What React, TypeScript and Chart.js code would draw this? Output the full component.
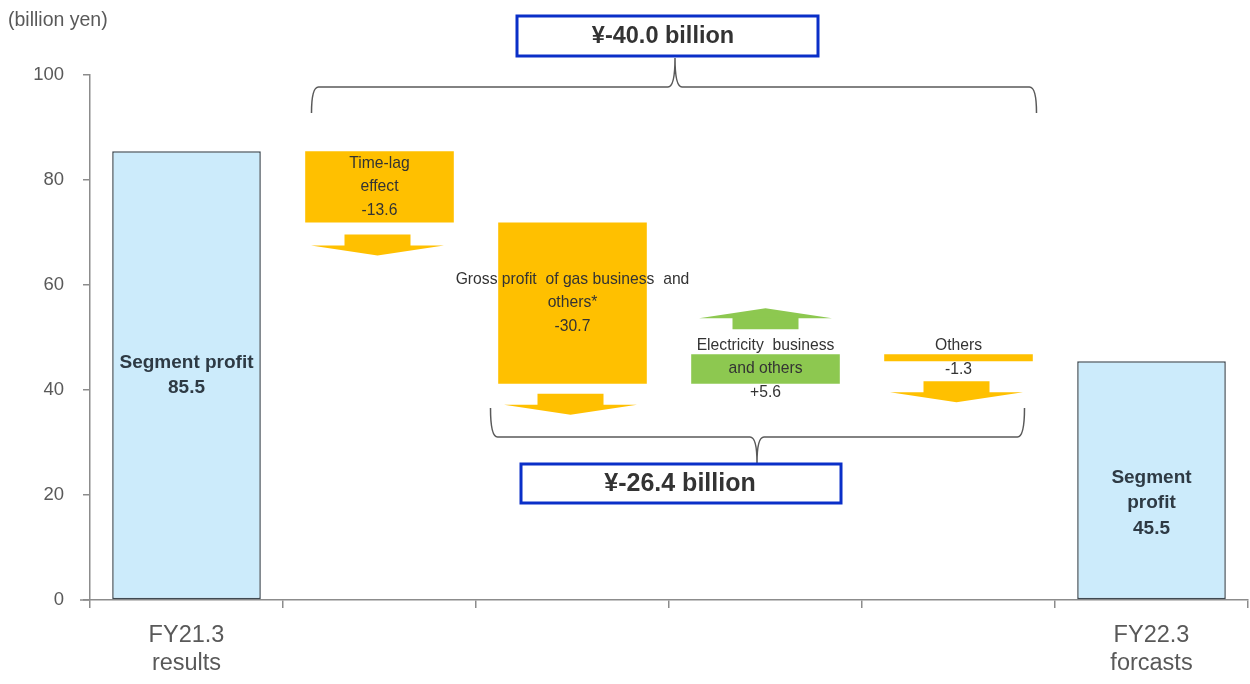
import React, { useEffect, useRef } from "react";
import { Chart, registerables } from "chart.js";

Chart.register(...registerables);

const categories: (string | string[])[] = [["FY21.3", "results"], "", "", "", "", ["FY22.3", "forcasts"]];
const startValue = 85.5;
const changes = [-13.6, -30.7, 5.6, -1.3];
const endValue = 45.5;
const barLabels: string[][] = [
  ["Segment profit", "85.5"],
  ["Time-lag", "effect", "-13.6"],
  ["Gross profit  of gas business  and", "others*", "-30.7"],
  ["Electricity  business", "and others", "+5.6"],
  ["Others", "-1.3"],
  ["Segment", "profit", "45.5"],
];
const totalLabel = "¥-40.0 billion";
const subTotalLabel = "¥-26.4 billion";
const yTicks = [0, 20, 40, 60, 80, 100];
const unitLabel = "(billion yen)";

const FONT = "'Liberation Sans', Arial, sans-serif";
const BLUE = "#CCEBFB";
const ORANGE = "#FFC000";
const GREEN = "#8DC850";
const GRAY = "#595959";

function buildFloating(): [number, number][] {
  const out: [number, number][] = [[0, startValue]];
  let cur = startValue;
  for (const c of changes) {
    const next = Math.round((cur + c) * 10) / 10;
    out.push([Math.min(cur, next), Math.max(cur, next)]);
    cur = next;
  }
  out.push([0, endValue]);
  return out;
}

function brace(ctx: CanvasRenderingContext2D, x1: number, x2: number, xm: number, yEnd: number, yLine: number, yTip: number) {
  const r = 7;
  ctx.beginPath();
  ctx.moveTo(x1, yEnd);
  ctx.quadraticCurveTo(x1, yLine, x1 + r, yLine);
  ctx.lineTo(xm - r, yLine);
  ctx.quadraticCurveTo(xm, yLine, xm, yTip);
  ctx.moveTo(xm, yTip);
  ctx.quadraticCurveTo(xm, yLine, xm + r, yLine);
  ctx.lineTo(x2 - r, yLine);
  ctx.quadraticCurveTo(x2, yLine, x2, yEnd);
  ctx.stroke();
}

function arrow(ctx: CanvasRenderingContext2D, cx: number, shaftTop: number, down: boolean, color: string) {
  const shaftW = 66, shaftH = 11, headW = 133, headH = 10;
  ctx.fillStyle = color;
  ctx.beginPath();
  if (down) {
    ctx.rect(cx - shaftW / 2, shaftTop, shaftW, shaftH + 1);
    ctx.fill();
    ctx.beginPath();
    ctx.moveTo(cx - headW / 2, shaftTop + shaftH);
    ctx.lineTo(cx + headW / 2, shaftTop + shaftH);
    ctx.lineTo(cx, shaftTop + shaftH + headH);
    ctx.closePath();
    ctx.fill();
  } else {
    ctx.moveTo(cx, shaftTop);
    ctx.lineTo(cx + headW / 2, shaftTop + headH);
    ctx.lineTo(cx - headW / 2, shaftTop + headH);
    ctx.closePath();
    ctx.fill();
    ctx.beginPath();
    ctx.rect(cx - shaftW / 2, shaftTop + headH - 1, shaftW, shaftH + 1);
    ctx.fill();
  }
}

const decorPlugin = {
  id: "decor",
  afterDatasetsDraw(chart: any) {
    const ctx: CanvasRenderingContext2D = chart.ctx;
    const meta = chart.getDatasetMeta(0);
    const els = meta.data;
    const area = chart.chartArea;
    ctx.save();

    // x-axis extension left of the y axis
    ctx.strokeStyle = "#8C8C8C";
    ctx.lineWidth = 1.5;
    ctx.beginPath();
    ctx.moveTo(area.left - 10, area.bottom);
    ctx.lineTo(area.left, area.bottom);
    ctx.stroke();

    // arrows
    const downGap: Record<number, number> = { 1: 12, 2: 10, 4: 20 };
    els.forEach((el: any, i: number) => {
      const bottom = Math.max(el.y, el.base);
      const top = Math.min(el.y, el.base);
      if (downGap[i] !== undefined) arrow(ctx, el.x - 2, bottom + downGap[i], true, ORANGE);
      if (i === 3) arrow(ctx, el.x, top - 46, false, GREEN);
    });

    // bar labels
    ctx.textAlign = "center";
    ctx.textBaseline = "middle";
    els.forEach((el: any, i: number) => {
      const lines = barLabels[i];
      const big = i === 0 || i === 5;
      const lh = big ? 25.5 : 23.5;
      ctx.font = big ? `bold 19px ${FONT}` : `15.7px ${FONT}`;
      ctx.fillStyle = big ? "#2E3A44" : "#333333";
      const top = Math.min(el.y, el.base);
      const bottom = Math.max(el.y, el.base);
      let cy = (top + bottom) / 2;
      if (i === 5) cy += 23;
      const start = cy - ((lines.length - 1) * lh) / 2;
      lines.forEach((t, k) => ctx.fillText(t, el.x, start + k * lh));
    });

    // braces
    ctx.strokeStyle = "#595959";
    ctx.lineWidth = 1.5;
    const c1 = els[1].x, c2 = els[2].x, c4 = els[4].x;
    brace(ctx, c1 - 68, c4 + 78, 675, 113, 87, 58);
    brace(ctx, c2 - 82, c4 + 66, 757, 408, 437, 463);

    // boxes
    const box = (x: number, y: number, w: number, h: number, text: string, size: number, tx: number) => {
      ctx.fillStyle = "#ffffff";
      ctx.fillRect(x, y, w, h);
      ctx.strokeStyle = "#0A2FC8";
      ctx.lineWidth = 3;
      ctx.strokeRect(x, y, w, h);
      ctx.fillStyle = "#333333";
      ctx.font = `bold ${size}px ${FONT}`;
      ctx.textAlign = "center";
      ctx.textBaseline = "middle";
      ctx.fillText(text, tx, y + h / 2 + 1);
    };
    box(517, 16, 301, 40, totalLabel, 23.5, 663);
    box(521, 464, 320, 39, subTotalLabel, 25, 680);

    // unit label
    ctx.font = `19.5px ${FONT}`;
    ctx.fillStyle = GRAY;
    ctx.textAlign = "left";
    ctx.textBaseline = "middle";
    ctx.fillText(unitLabel, 8, 21);

    ctx.restore();
  },
};

export default function App() {
  const ref = useRef<HTMLCanvasElement | null>(null);
  useEffect(() => {
    if (!ref.current) return;
    const data = buildFloating();
    const chart = new Chart(ref.current, {
      type: "bar",
      data: {
        labels: categories,
        datasets: [
          {
            data: data as any,
            backgroundColor: [BLUE, ORANGE, ORANGE, GREEN, ORANGE, BLUE],
            borderColor: ["#3F4A52", ORANGE, ORANGE, GREEN, ORANGE, "#3F4A52"],
            borderWidth: [1.5, 0, 0, 0, 0, 1.5],
            borderSkipped: false,
            barPercentage: 0.77,
            categoryPercentage: 1,
          },
        ],
      },
      options: {
        animation: false,
        responsive: false,
        devicePixelRatio: 1,
        layout: { padding: { top: 75, right: 2, left: 0, bottom: 0 } },
        plugins: { legend: { display: false }, tooltip: { enabled: false } },
        scales: {
          x: {
            grid: { display: true, drawOnChartArea: false, drawTicks: true, tickLength: 8, color: "#8C8C8C", offset: true, lineWidth: 1.5 },
            border: { display: true, color: "#8C8C8C", width: 1.5 },
            ticks: { font: { size: 23.5, family: FONT, lineHeight: 1.2 }, color: GRAY, padding: 13, maxRotation: 0, autoSkip: false },
            afterFit: (s: any) => { s.height = 84; },
          },
          y: {
            min: 0,
            max: 100,
            afterBuildTicks: (s: any) => { s.ticks = yTicks.map((v) => ({ value: v })); },
            grid: { display: true, drawOnChartArea: false, drawTicks: true, tickLength: 7, color: "#8C8C8C", lineWidth: 1.5 },
            border: { display: true, color: "#8C8C8C", width: 1.5 },
            ticks: { font: { size: 18.5, family: FONT }, color: GRAY, padding: 19 },
            afterFit: (s: any) => { s.width = 90; },
          },
        },
      },
      plugins: [decorPlugin],
    });
    return () => chart.destroy();
  }, []);
  return (
    <div style={{ position: "fixed", left: 0, top: 0, width: 1250, height: 684, background: "#fff" }}>
      <canvas ref={ref} width={1250} height={684} />
    </div>
  );
}
